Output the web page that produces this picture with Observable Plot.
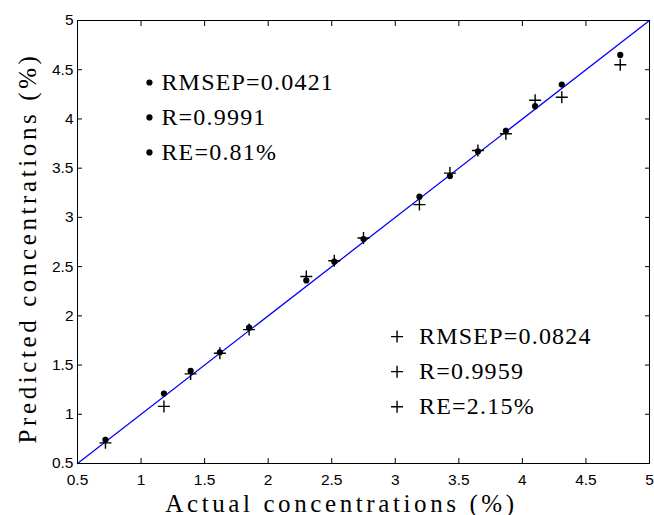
<!DOCTYPE html>
<html><head><meta charset="utf-8">
<script src="https://cdn.jsdelivr.net/npm/d3@7"></script>
<script src="https://cdn.jsdelivr.net/npm/@observablehq/plot@0.6"></script>
<style>body{margin:0;background:#fff}</style>
</head><body><div id="chart"></div>
<script>
// Data
const actual    = [0.72, 1.18, 1.39, 1.62, 1.85, 2.30, 2.52, 2.75, 3.19, 3.43, 3.65, 3.87, 4.10, 4.31, 4.77];
const predDot   = [0.74, 1.21, 1.44, 1.63, 1.88, 2.36, 2.55, 2.78, 3.21, 3.42, 3.67, 3.88, 4.13, 4.35, 4.65];
const predPlus  = [0.71, 1.08, 1.41, 1.62, 1.86, 2.40, 2.56, 2.79, 3.13, 3.45, 3.68, 3.85, 4.19, 4.22, 4.55];
const tickValues = [0.5, 1, 1.5, 2, 2.5, 3, 3.5, 4, 4.5, 5];
const tickLabels = ["0.5", "1", "1.5", "2", "2.5", "3", "3.5", "4", "4.5", "5"];
const idealLine = [0.5, 5];
const dotStats  = ["RMSEP=0.0421", "R=0.9991", "RE=0.81%"];
const plusStats = ["RMSEP=0.0824", "R=0.9959", "RE=2.15%"];
const xLabel = "Actual concentrations (%)";
const yLabel = "Predicted concentrations (%)";

// layout / style (not data)
const serifFont = "Liberation Serif";
const tickFont = "Liberation Sans";
const annSize = 24, titleSize = 25;
const plusR = 3.95;
const dotLegend  = {mx: 1.066, tx: 1.16, y0: 4.37, step: 0.355};
const plusLegend = {mx: 3.014, tx: 3.187, y0: 1.789, step: 0.356};
const fmt = d => tickLabels[tickValues.indexOf(d)];

const chart = Plot.plot({
  width: 654,
  height: 515,
  marginLeft: 77,
  marginRight: 5,
  marginTop: 20,
  marginBottom: 52,
  style: {background: "white", color: "black"},
  x: {domain: [0.5, 5], label: null},
  y: {domain: [0.5, 5], label: null},
  marks: [
    Plot.line(idealLine, {x: d => d, y: d => d, stroke: "#0000ff", strokeWidth: 1.3}),
    Plot.dot(actual, {x: d => d, y: (d, i) => predDot[i], r: 3.1, fill: "black"}),
    Plot.dot(actual, {x: d => d, y: (d, i) => predPlus[i], symbol: "plus", r: plusR, stroke: "black", strokeWidth: 1.4}),
    // legends (annotations)
    Plot.dot(dotStats, {x: () => dotLegend.mx, y: (d, i) => dotLegend.y0 - dotLegend.step * i, r: 3.1, fill: "black"}),
    Plot.text(dotStats, {x: () => dotLegend.tx, y: (d, i) => dotLegend.y0 - dotLegend.step * i, text: d => d,
      textAnchor: "start", fontFamily: serifFont, fontSize: annSize, fill: "black"}),
    Plot.dot(plusStats, {x: () => plusLegend.mx, y: (d, i) => plusLegend.y0 - plusLegend.step * i, symbol: "plus", r: plusR, stroke: "black", strokeWidth: 1.4}),
    Plot.text(plusStats, {x: () => plusLegend.tx, y: (d, i) => plusLegend.y0 - plusLegend.step * i, text: d => d,
      textAnchor: "start", fontFamily: serifFont, fontSize: annSize, fill: "black"}),
    // axes with inward ticks on all four sides
    Plot.axisX(tickValues, {anchor: "bottom", tickSize: -5, tickPadding: 15, tickFormat: fmt, label: null,
      fontFamily: tickFont, fontSize: 15.5}),
    Plot.axisX(tickValues, {anchor: "top", tickSize: -5, tickFormat: () => "", label: null}),
    Plot.axisY(tickValues, {anchor: "left", tickSize: -5, tickPadding: 9, tickFormat: fmt, label: null,
      fontFamily: tickFont, fontSize: 15.5}),
    Plot.axisY(tickValues, {anchor: "right", tickSize: -5, tickFormat: () => "", label: null}),
    Plot.frame({stroke: "black", strokeWidth: 1}),
    // axis titles
    Plot.text([xLabel], {frameAnchor: "bottom", text: d => d, dy: 40, dx: -22, textAnchor: "middle", lineAnchor: "middle",
      fontFamily: serifFont, fontSize: titleSize, fill: "black"}),
    Plot.text([yLabel], {frameAnchor: "left", text: d => d, rotate: -90, dx: -50, dy: 6, textAnchor: "middle", lineAnchor: "middle",
      fontFamily: serifFont, fontSize: titleSize, fill: "black"})
  ]
});
// spread the serif glyphs to mimic the evenly spaced (half-width) font of the original
d3.select(chart).selectAll(`g[font-size="${annSize}"]`).style("letter-spacing", "1.2px");
d3.select(chart).selectAll(`g[font-size="${titleSize}"]`).style("letter-spacing", "3.6px");
document.getElementById("chart").appendChild(chart);
</script>
</body></html>
